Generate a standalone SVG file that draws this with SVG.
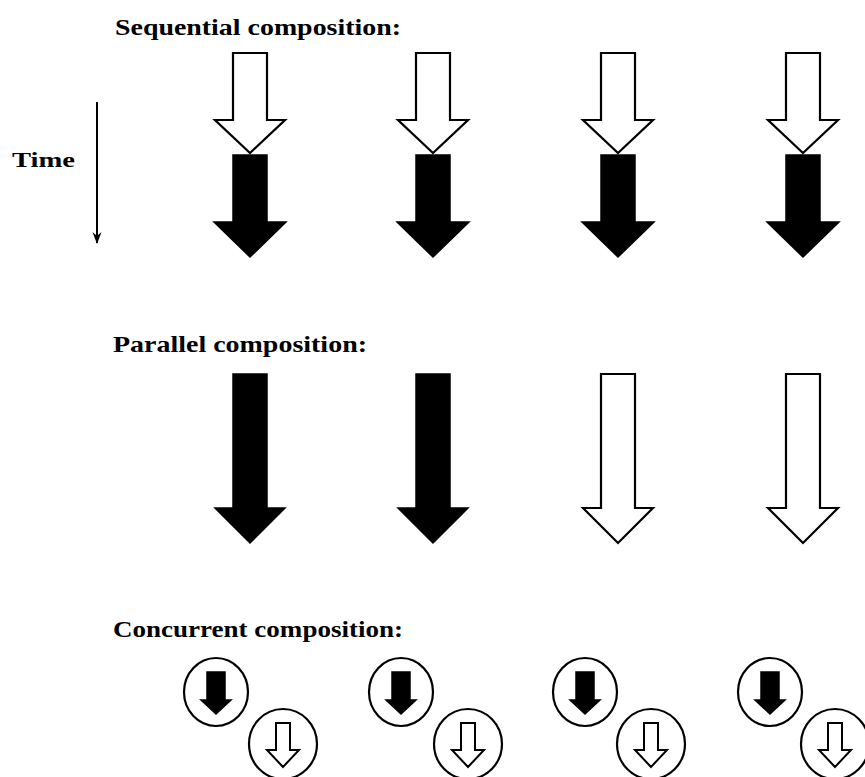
<svg xmlns="http://www.w3.org/2000/svg" width="865" height="777" viewBox="0 0 865 777">
  <defs>
    <style>
      .label { font-family: "Liberation Serif", "DejaVu Serif", serif; font-weight: bold; fill: #000; }
      .open { fill: #fff; stroke: #000; stroke-width: 2.2; stroke-linejoin: miter; }
      .solid { fill: #000; stroke: #000; stroke-width: 1.5; }
      .ring { fill: #fff; stroke: #000; stroke-width: 2.2; }
      .open-sm { fill: #fff; stroke: #000; stroke-width: 2; }
    </style>
    <!-- sequential: upper hollow arrow and lower filled arrow, centred on x=0 -->
    <path id="seqOpen" d="M-17,53 H17 V120 H35 L0,153 L-35,120 H-17 Z"/>
    <path id="seqSolid" d="M-17,155 H17 V222 H36 L0,257 L-36,222 H-17 Z"/>
    <!-- parallel: long arrow, centred on x=0 -->
    <path id="longArrow" d="M-17,374 H17 V508 H35 L0,543 L-35,508 H-17 Z"/>
    <!-- small arrows inside circles, centred on (0,0) -->
    <path id="smSolid" d="M-9,-20 H9 V8 H15 L0,22 L-15,8 H-9 Z"/>
    <path id="smOpen" d="M-7,-21 H7 V6 H16 L0,23 L-16,6 H-7 Z"/>
    <!-- small barbed head for the time axis, pointing along +x -->
    <marker id="timeHead" viewBox="0 0 12 10" refX="11" refY="5" markerWidth="12" markerHeight="10" markerUnits="userSpaceOnUse" orient="auto">
      <path d="M0,0.5 L12,5 L0,9.5 L4,5 Z" fill="#000"/>
    </marker>
  </defs>

  <rect width="865" height="777" fill="#fff"/>

  <!-- section titles -->
  <text id="title-seq" class="label" x="115" y="35" font-size="23" textLength="286" lengthAdjust="spacingAndGlyphs">Sequential composition:</text>
  <text id="title-par" class="label" x="113" y="352" font-size="23" textLength="254" lengthAdjust="spacingAndGlyphs">Parallel composition:</text>
  <text id="title-conc" class="label" x="113" y="637" font-size="23" textLength="290" lengthAdjust="spacingAndGlyphs">Concurrent composition:</text>

  <!-- time axis -->
  <g id="time-axis">
    <text class="label" x="12" y="167" font-size="20" textLength="63" lengthAdjust="spacingAndGlyphs">Time</text>
  </g>
  <g id="connectors">
    <line x1="97" y1="102" x2="97" y2="243" stroke="#000" stroke-width="2" marker-end="url(#timeHead)"/>
  </g>

  <!-- sequential composition -->
  <g id="seq-1" transform="translate(250,0)"><use href="#seqOpen" class="open"/><use href="#seqSolid" class="solid"/></g>
  <g id="seq-2" transform="translate(433,0)"><use href="#seqOpen" class="open"/><use href="#seqSolid" class="solid"/></g>
  <g id="seq-3" transform="translate(618,0)"><use href="#seqOpen" class="open"/><use href="#seqSolid" class="solid"/></g>
  <g id="seq-4" transform="translate(803,0)"><use href="#seqOpen" class="open"/><use href="#seqSolid" class="solid"/></g>

  <!-- parallel composition -->
  <g id="par-1" transform="translate(250,0)"><use href="#longArrow" class="solid"/></g>
  <g id="par-2" transform="translate(433,0)"><use href="#longArrow" class="solid"/></g>
  <g id="par-3" transform="translate(618,0)"><use href="#longArrow" class="open"/></g>
  <g id="par-4" transform="translate(803,0)"><use href="#longArrow" class="open"/></g>

  <!-- concurrent composition -->
  <g id="conc-1">
    <g transform="translate(216,692)"><ellipse class="ring" rx="32" ry="34"/><use href="#smSolid" class="solid"/></g>
    <g transform="translate(283,744)"><ellipse class="ring" rx="34" ry="35"/><use href="#smOpen" class="open-sm"/></g>
  </g>
  <g id="conc-2">
    <g transform="translate(401,692)"><ellipse class="ring" rx="32" ry="34"/><use href="#smSolid" class="solid"/></g>
    <g transform="translate(468,744)"><ellipse class="ring" rx="34" ry="35"/><use href="#smOpen" class="open-sm"/></g>
  </g>
  <g id="conc-3">
    <g transform="translate(585,692)"><ellipse class="ring" rx="32" ry="34"/><use href="#smSolid" class="solid"/></g>
    <g transform="translate(651,744)"><ellipse class="ring" rx="34" ry="35"/><use href="#smOpen" class="open-sm"/></g>
  </g>
  <g id="conc-4">
    <g transform="translate(770,692)"><ellipse class="ring" rx="32" ry="34"/><use href="#smSolid" class="solid"/></g>
    <g transform="translate(835,744)"><ellipse class="ring" rx="34" ry="35"/><use href="#smOpen" class="open-sm"/></g>
  </g>
</svg>
